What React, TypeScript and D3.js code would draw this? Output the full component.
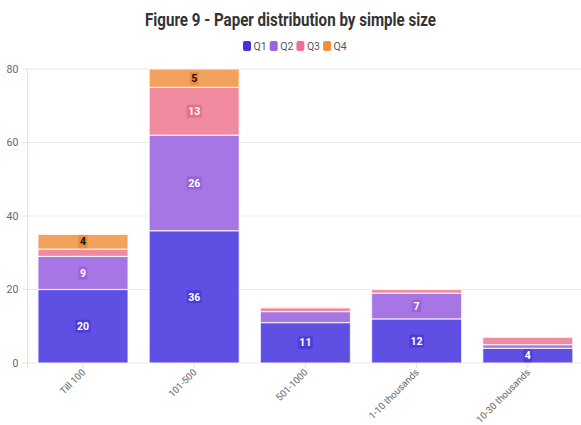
import React from "react";
import * as d3 from "d3";

const categories = ["Till 100", "101-500", "501-1000", "1-10 thousands", "10-30 thousands"];
const seriesNames = ["Q1", "Q2", "Q3", "Q4"];
const q1 = [20, 36, 11, 12, 4];
const q2 = [9, 26, 3, 7, 1];
const q3 = [2, 13, 1, 1, 2];
const q4 = [4, 5, 0, 0, 0];
const yTicks = [0, 20, 40, 60, 80];

const legendColors = ["#4433dd", "#9b62e2", "#ee7290", "#f08d3e"];
const barColors = ["#5f4fe2", "#a676e5", "#f08a9e", "#f2a25c"];
const labelBg = ["#4d3dd8", "#9563dc", "#e86f88", "#ee8a3a"];
const labelFg = ["#ffffff", "#ffffff", "#ffffff", "#111111"];

const W = 581;
const H = 425;
const FONT = "Roboto, 'Noto Sans', sans-serif";

export default function App() {
  const rows = categories.map((c, i) => ({ cat: c, Q1: q1[i], Q2: q2[i], Q3: q3[i], Q4: q4[i] }));
  const stacked = d3.stack<any>().keys(seriesNames)(rows);

  const x = d3.scaleBand<string>().domain(categories).range([27.4, 583.4]).paddingInner(0.19).paddingOuter(0.095);
  const y = d3.scaleLinear().domain([0, 80]).range([363, 69]);
  const left = 27.4;
  const right = 583;

  return (
    <div style={{ position: "fixed", left: 0, top: 0 }}>
      <svg width={W} height={H} style={{ display: "block", background: "#fff" }} fontFamily={FONT}>
        <text
          x={W / 2}
          y={26}
          textAnchor="middle"
          fontSize={18.5}
          fontWeight={700}
          fill="#333"
          textLength={291}
          lengthAdjust="spacingAndGlyphs"
        >
          Figure 9 - Paper distribution by simple size
        </text>

        {/* legend */}
        {seriesNames.map((s, i) => {
          const lx = 243 + i * 26.7;
          return (
            <g key={s}>
              <rect x={lx} y={41} width={8} height={10} rx={2} fill={legendColors[i]} />
              <text x={lx + 10.5} y={50} fontSize={10.5} fill="#555">
                {s}
              </text>
            </g>
          );
        })}

        {/* grid and y axis */}
        {yTicks.map((t) => (
          <g key={t}>
            <line x1={left} x2={right} y1={y(t)} y2={y(t)} stroke="#e9e9e9" strokeWidth={1} />
            <line x1={left - 5} x2={left} y1={y(t)} y2={y(t)} stroke="#e4e4e4" strokeWidth={1} />
            <text x={left - 9} y={y(t) + 3.8} textAnchor="end" fontSize={10.5} fill="#666">
              {t}
            </text>
          </g>
        ))}
        <line x1={left} x2={left} y1={y(80)} y2={y(0) + 5} stroke="#e4e4e4" strokeWidth={1} />

        {/* x ticks and labels */}
        {categories.map((c) => {
          const cx = (x(c) as number) + x.bandwidth() / 2;
          return (
            <g key={c}>
              <line x1={cx} x2={cx} y1={y(0)} y2={y(0) + 5} stroke="#e4e4e4" strokeWidth={1} />
              <text
                transform={`translate(${cx + 3},${y(0) + 10}) rotate(-45)`}
                textAnchor="end"
                fontSize={9.6}
                fill="#666"
              >
                {c}
              </text>
            </g>
          );
        })}

        {/* stacked bars */}
        {stacked.map((layer, si) => (
          <g key={layer.key}>
            {layer.map((d, ci) => {
              const v = d[1] - d[0];
              if (v <= 0) return null;
              const bx = x(categories[ci]) as number;
              const y0 = y(d[0]);
              const y1 = y(d[1]);
              return (
                <rect
                  key={ci}
                  x={bx}
                  y={y1}
                  width={x.bandwidth()}
                  height={y0 - y1}
                  fill={barColors[si]}
                  stroke="#ffffff"
                  strokeOpacity={0.75}
                  strokeWidth={1.2}
                />
              );
            })}
          </g>
        ))}

        {/* value labels */}
        {stacked.map((layer, si) => (
          <g key={"l" + layer.key}>
            {layer.map((d, ci) => {
              const v = d[1] - d[0];
              if (v < 4) return null;
              const cx = (x(categories[ci]) as number) + x.bandwidth() / 2;
              const cy = (y(d[0]) + y(d[1])) / 2;
              const label = String(v);
              const tw = label.length * 6 + 3;
              return (
                <g key={ci}>
                  <rect x={cx - tw / 2} y={cy - 6.5} width={tw} height={13} rx={1.5} fill={labelBg[si]} />
                  <text x={cx} y={cy + 3.7} textAnchor="middle" fontSize={10.5} fontWeight={700} fill={labelFg[si]}>
                    {label}
                  </text>
                </g>
              );
            })}
          </g>
        ))}
      </svg>
    </div>
  );
}
